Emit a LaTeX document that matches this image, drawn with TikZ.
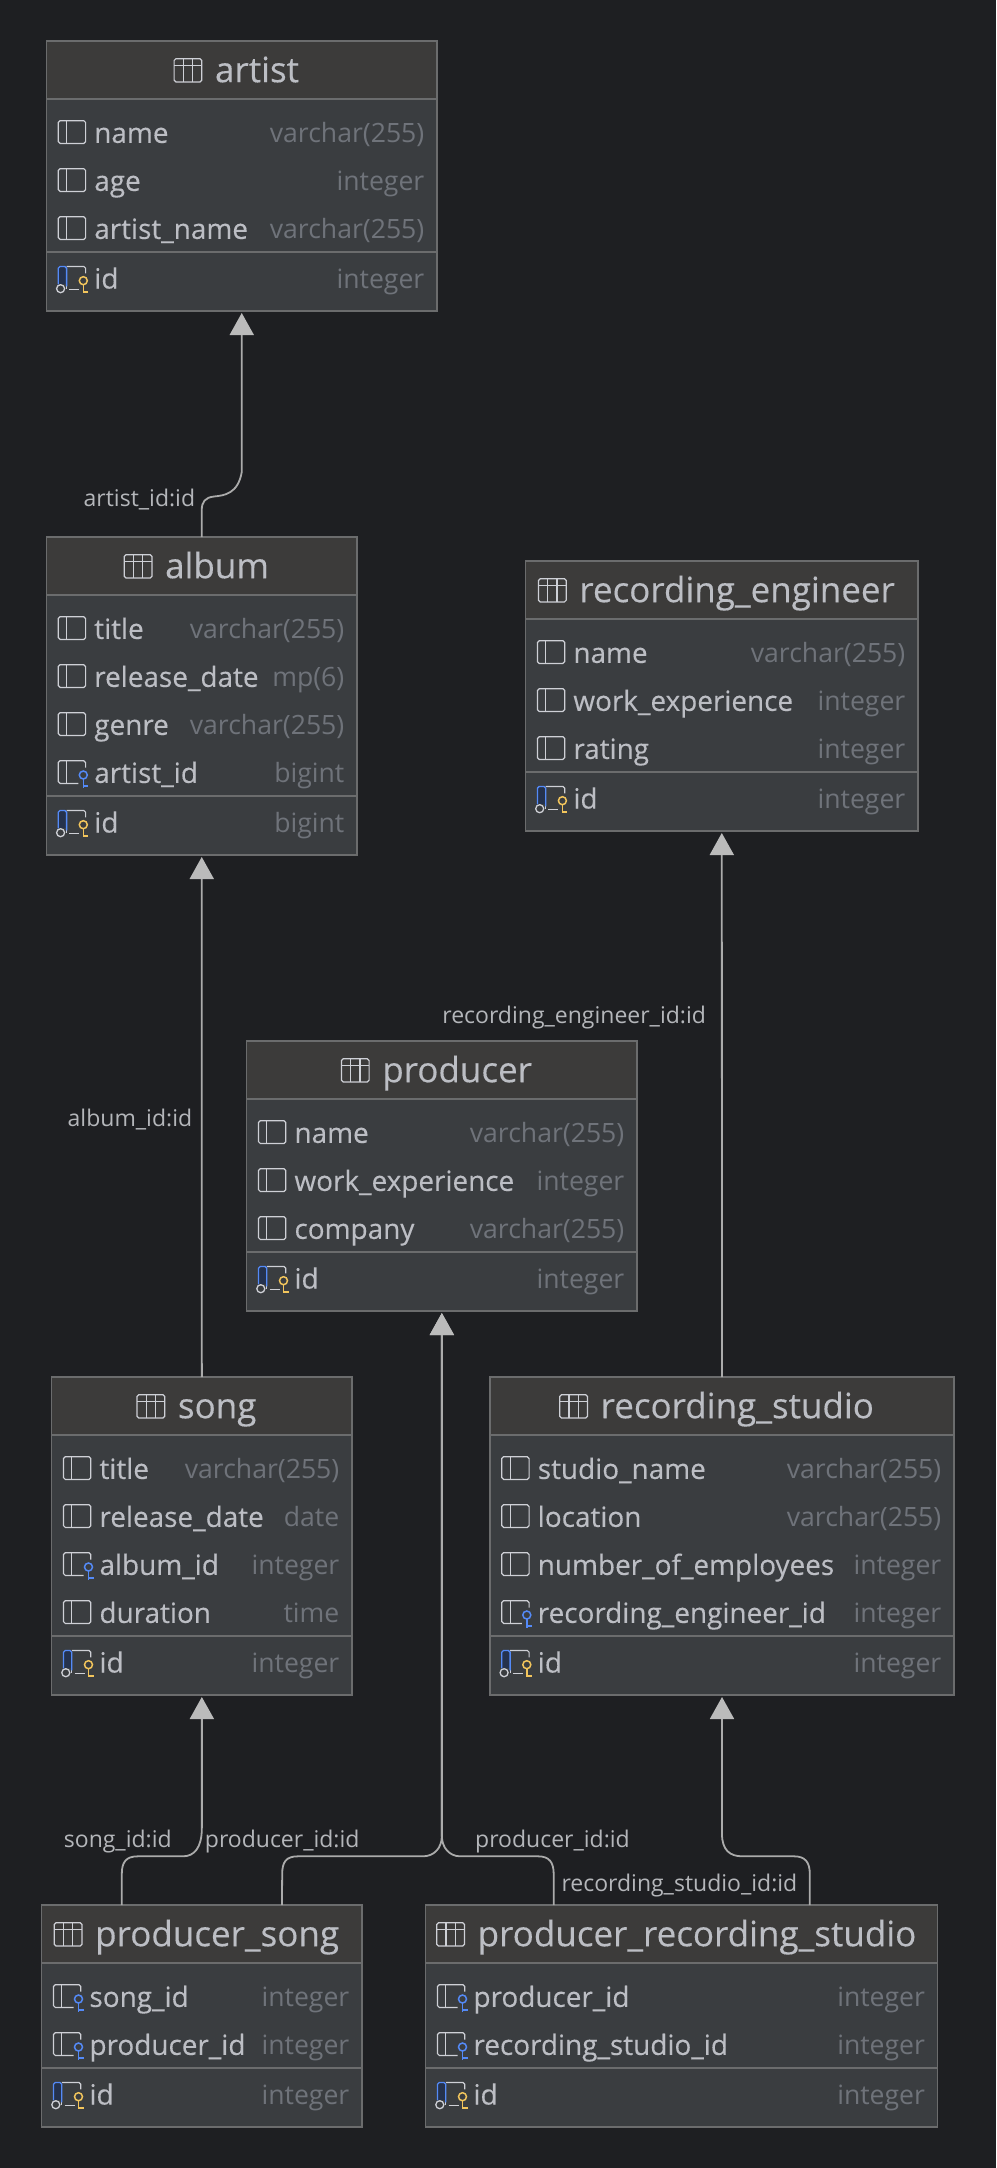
\documentclass[tikz,border=0pt]{standalone}
\usepackage{fontspec}
\usetikzlibrary{arrows.meta,calc}
\setmainfont{Open Sans}
\newfontfamily\rowfamily[FakeBold=0.25]{Open Sans}
\catcode`\_=12
\definecolor{pagebg}{HTML}{1E1F22}
\definecolor{headbg}{HTML}{3C3B3A}
\definecolor{bodybg}{HTML}{3A3D40}
\definecolor{edge}{HTML}{6B6C6D}
\definecolor{rowtext}{HTML}{BCBEC4}
\definecolor{typetext}{HTML}{6F737A}
\definecolor{linktext}{HTML}{B4B6BA}
\definecolor{linkline}{HTML}{ABABAB}
\definecolor{tip}{HTML}{BBBBBB}
\definecolor{iconline}{HTML}{CED0D6}
\definecolor{iconblue}{HTML}{548AF7}
\definecolor{iconblued}{HTML}{25324D}
\definecolor{iconyellow}{HTML}{F2C55C}
\tikzset{
  tablebox/.style={draw=edge,line width=1.3pt,fill=bodybg,inner sep=0pt,outer sep=0pt,rectangle},
  rule/.style={draw=edge,line width=1.3pt},
  ico/.style={draw=iconline,line width=1.2pt,rounded corners=1.8pt},
  titletext/.style={inner sep=0pt,text=rowtext,anchor=base,font=\rowfamily\fontsize{35}{40}\selectfont},
  nametext/.style={inner sep=0pt,text=rowtext,anchor=base west,font=\rowfamily\fontsize{27.9}{32}\selectfont},
  typetext/.style={inner sep=0pt,text=typetext,anchor=base east,font=\fontsize{26.6}{32}\selectfont},
  linklabel/.style={inner sep=0pt,text=linktext,anchor=base west,font=\fontsize{23}{27}\selectfont},
  link/.style={draw=linkline,line width=1.8pt},
  linkarrow/.style={link,-{Triangle[width=24pt,length=22pt,color=tip]},shorten >=2pt},
}
\newcommand\iconc[2]{\begin{scope}[shift={(#1,#2)}]
  \draw[ico] (0,0) rectangle (27.3,22.7);
  \draw[ico] (8.3,0) -- (8.3,22.7);
\end{scope}}
\newcommand\keyglyph[1]{%
  \draw[draw=#1,line width=1.5pt] (25,14.3) circle (4);
  \draw[draw=#1,line width=1.5pt] (25,18.3) -- (25,27) (25,25.5) -- (30,25.5);
}
\newcommand\iconf[2]{\begin{scope}[shift={(#1,#2)}]
  \draw[ico] (27.3,7) -- (27.3,0) -- (0,0) -- (0,22.7) -- (20,22.7);
  \draw[ico] (8.3,0) -- (8.3,22.7);
  \keyglyph{iconblue}
\end{scope}}
\newcommand\iconp[2]{\begin{scope}[shift={(#1,#2)}]
  \fill[iconblued] (0,1) rectangle (8.3,18);
  \draw[ico] (8.3,0) -- (27.3,0) -- (27.3,7);
  \draw[draw=iconline,line width=1.2pt] (11,22.7) -- (21,22.7);
  \draw[draw=iconline,line width=1.2pt] (8.3,22.7) -- (8.3,20);
  \draw[draw=iconblue,line width=1.3pt,rounded corners=1.8pt] (0,18) -- (0,0) -- (8.3,0) -- (8.3,20);
  \draw[draw=iconline,line width=1.3pt] (2.3,22.3) circle (4);
  \keyglyph{iconyellow}
\end{scope}}
\newcommand\icontable[1]{\begin{scope}[shift={(#1)}]
  \draw[ico] (0,0) rectangle (27.7,23.3);
  \draw[ico] (0,6.7) -- (27.7,6.7) (9.2,0) -- (9.2,23.3) (18.5,0) -- (18.5,23.3);
\end{scope}}
% id, left, right, top, title, rows, key type, row count
\newcommand\dbtable[8]{%
  \pgfmathsetmacro\tabW{#3-#2}
  \pgfmathsetmacro\tabLast{#4+100.7+48*(#8-1)}
  \pgfmathsetmacro\tabSep{\tabLast+14.3}
  \pgfmathsetmacro\tabKey{\tabSep+35.3}
  \pgfmathsetmacro\tabB{\tabKey+23.7}
  \pgfmathsetmacro\tabH{\tabB-#4}
  \pgfmathsetmacro\tabC{(#2+#3)/2}
  \node[tablebox,minimum width=\tabW pt,minimum height=\tabH pt,anchor=north west] (#1) at (#2,#4) {};
  \fill[headbg] ([shift={(.65pt,-.65pt)}]#1.north west) rectangle ([shift={(-.65pt,-58pt)}]#1.north east);
  \draw[rule] ([yshift=-58pt]#1.north west) -- ([yshift=-58pt]#1.north east);
  \draw[rule] (#2,\tabSep) -- (#3,\tabSep);
  \node[titletext] (#1-title) at (\tabC+15.3,#4+41.2) {#5};
  \coordinate (#1-ic) at ([shift={(-40.7pt,23.5pt)}]#1-title.base west);
  \icontable{#1-ic}
  \foreach \k/\nm/\tp [count=\ri] in {#6}{%
    \pgfmathsetmacro\rb{#4+100.7+48*(\ri-1)}
    \csname icon\k\endcsname{#2+11.8}{\rb-21}
    \node[nametext] (#1-n\ri) at (#2+47.6,\rb+1.2) {\nm};
    \node[typetext] (#1-t\ri) at (#3-12.5,\rb+1.2) {\tp};
  }
  \iconp{#2+11.8}{\tabKey-20.9}
  \node[nametext] (#1-kn) at (#2+47.6,\tabKey+1.2) {id};
  \node[typetext] (#1-kt) at (#3-12.5,\tabKey+1.2) {#7};
}
\begin{document}
\begin{tikzpicture}[x=1pt,y=-1pt]
\fill[pagebg] (0,0) rectangle (996,2168);
\useasboundingbox (0,0) rectangle (996,2168);
\dbtable{artist}{46.5}{437}{41}{artist}{c/name/varchar(255),c/age/integer,c/artist_name/varchar(255)}{integer}{3}
\dbtable{album}{46.5}{357}{537}{album}{c/title/varchar(255),c/release_date/mp(6),c/genre/varchar(255),f/artist_id/bigint}{bigint}{4}
\dbtable{engineer}{525.6}{918}{561}{recording_engineer}{c/name/varchar(255),c/work_experience/integer,c/rating/integer}{integer}{3}
\dbtable{producer}{246.7}{637}{1041}{producer}{c/name/varchar(255),c/work_experience/integer,c/company/varchar(255)}{integer}{3}
\dbtable{song}{51.7}{352}{1377}{song}{c/title/varchar(255),c/release_date/date,f/album_id/integer,c/duration/time}{integer}{4}
\dbtable{studio}{490}{954}{1377}{recording_studio}{c/studio_name/varchar(255),c/location/varchar(255),c/number_of_employees/integer,f/recording_engineer_id/integer}{integer}{4}
\dbtable{psong}{41.7}{362}{1905}{producer_song}{f/song_id/integer,f/producer_id/integer}{integer}{2}
\dbtable{pstudio}{425.7}{937.7}{1905}{producer_recording_studio}{f/producer_id/integer,f/recording_studio_id/integer}{integer}{2}
% connectors
\draw[linkarrow] (album.north) -- (201.75,510) .. controls (201.75,502) and (205,497.5) .. (214,496.5)
  .. controls (224,495.5) and (238,494) .. (241.75,472) -- (artist.south);
\draw[linkarrow] (song.north) -- (album.south);
\draw[linkarrow] (studio.north) -- (engineer.south);
\coordinate (psA) at ($(psong.north west)!.25!(psong.north east)$);
\coordinate (psB) at ($(psong.north west)!.75!(psong.north east)$);
\coordinate (stA) at ($(pstudio.north west)!.25!(pstudio.north east)$);
\coordinate (stB) at ($(pstudio.north west)!.75!(pstudio.north east)$);
\draw[linkarrow] (psA) -- (121.8,1874) .. controls (121.8,1862) and (126,1856.3) .. (138,1856.3)
  -- (183,1856.3) .. controls (194,1856.3) and (201.85,1848) .. (201.85,1828) -- (song.south);
\draw[linkarrow] (psB) -- (282.2,1874) .. controls (282.2,1862) and (286,1856.3) .. (298,1856.3)
  -- (423,1856.3) .. controls (434,1856.3) and (441.85,1848) .. (441.85,1836) -- (producer.south);
\draw[linkarrow] (stA) -- (553.7,1874) .. controls (553.7,1862) and (549,1856.3) .. (538,1856.3)
  -- (460,1856.3) .. controls (450,1856.3) and (441.85,1848) .. (441.85,1836) -- (producer.south);
\draw[linkarrow] (stB) -- (809.8,1874) .. controls (809.8,1862) and (805,1856.3) .. (794,1856.3)
  -- (742,1856.3) .. controls (730,1856.3) and (722,1850) .. (722,1834) -- (studio.south);
% labels
\node[linklabel] (l1) at (83.5,506.5) {artist_id:id};
\node[linklabel] (l2) at (67.5,1126) {album_id:id};
\node[linklabel] (l3) at (442.2,1023) {recording_engineer_id:id};
\node[linklabel] (l4) at (63.7,1847) {song_id:id};
\node[linklabel] (l5) at (204.7,1847) {producer_id:id};
\node[linklabel] (l6) at (475,1847) {producer_id:id};
\node[linklabel] (l7) at (561.3,1891) {recording_studio_id:id};
\end{tikzpicture}
\end{document}
